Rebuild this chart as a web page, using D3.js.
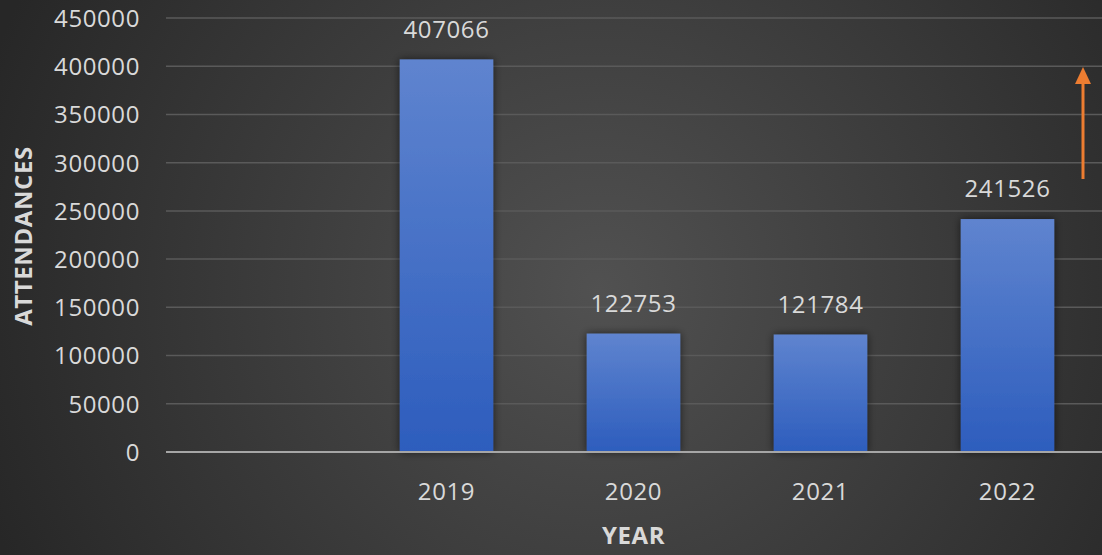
<!DOCTYPE html>
<html><head><meta charset="utf-8">
<script src="https://cdn.jsdelivr.net/npm/d3@7"></script>
<style>html,body{margin:0;padding:0;background:#333;}svg{display:block;}</style>
</head><body>
<svg id="c" width="1102" height="555"></svg>
<script>
const categories = ["", "2019", "2020", "2021", "2022"];
const values = [null, 407066, 122753, 121784, 241526];
const yTicks = [0, 50000, 100000, 150000, 200000, 250000, 300000, 350000, 400000, 450000];
const yTitle = "ATTENDANCES";
const xTitle = "YEAR";

const W = 1102, H = 555;
const m = {left: 166, right: 1, top: 18, bottom: 103};
const FONT = "'Open Sans', sans-serif";
const svg = d3.select("#c");
const defs = svg.append("defs");

const bg = defs.append("radialGradient").attr("id","bg").attr("gradientUnits","userSpaceOnUse")
  .attr("cx", 600).attr("cy", 290).attr("r", 650);
bg.append("stop").attr("offset","0%").attr("stop-color","#515151");
bg.append("stop").attr("offset","100%").attr("stop-color","#272727");

const bar = defs.append("linearGradient").attr("id","bar").attr("x1",0).attr("y1",0).attr("x2",0).attr("y2",1);
bar.append("stop").attr("offset","0%").attr("stop-color","#5f84cf");
bar.append("stop").attr("offset","100%").attr("stop-color","#2d5dbd");

const sh = defs.append("filter").attr("id","sh").attr("x","-30%").attr("y","-10%").attr("width","160%").attr("height","120%");
sh.append("feGaussianBlur").attr("in","SourceAlpha").attr("stdDeviation",4);
sh.append("feOffset").attr("dx",0).attr("dy",0).attr("result","b");
sh.append("feComponentTransfer").append("feFuncA").attr("type","linear").attr("slope",0.6);
const mg = sh.append("feMerge"); mg.append("feMergeNode"); mg.append("feMergeNode").attr("in","SourceGraphic");

svg.append("rect").attr("width",W).attr("height",H).attr("fill","url(#bg)");

const x = d3.scaleBand().domain(categories.map((c,i)=>i)).range([m.left, W - m.right]).paddingInner(0.5).paddingOuter(0.25);
const y = d3.scaleLinear().domain([0, 450000]).range([H - m.bottom, m.top]);

// gridlines
svg.append("g").selectAll("line").data(yTicks.filter(t=>t>0)).join("line")
  .attr("x1", m.left).attr("x2", W).attr("y1", d=>y(d)).attr("y2", d=>y(d))
  .attr("stroke","#5a5a5a").attr("stroke-width",1.5);

function styleText(sel){
  sel.attr("fill","#d9d9d9").style("font-family",FONT).style("font-size","24px").style("letter-spacing","0.6px");
}

// y axis labels
const yAxis = d3.axisLeft(y).tickValues(yTicks).tickSize(0).tickPadding(0).tickFormat(d3.format("d"));
const ya = svg.append("g").attr("transform",`translate(140,0)`).call(yAxis);
ya.select(".domain").remove();
ya.selectAll("text").attr("dy","0.35em").call(styleText);

// bars
const data = categories.map((c,i)=>({i, c, v: values[i]})).filter(d=>d.v!=null);
svg.append("g").selectAll("rect").data(data).join("rect")
  .attr("x", d=>x(d.i)).attr("width", x.bandwidth())
  .attr("y", d=>y(d.v)).attr("height", d=>y(0)-y(d.v))
  .attr("fill","url(#bar)").attr("filter","url(#sh)");

// data labels
svg.append("g").selectAll("text").data(data).join("text")
  .attr("x", d=>x(d.i)+x.bandwidth()/2).attr("y", d=>y(d.v)-30)
  .attr("text-anchor","middle").attr("dy","0.35em")
  .call(styleText)
  .text(d=>d.v);

// zero axis line
svg.append("line").attr("x1", m.left).attr("x2", W).attr("y1", y(0)).attr("y2", y(0))
  .attr("stroke","#a6a6a6").attr("stroke-width",2);

// x labels
const xAxis = d3.axisBottom(x).tickSize(0).tickPadding(0).tickFormat(i=>categories[i]);
const xa = svg.append("g").attr("transform",`translate(0,${y(0)+40})`).call(xAxis);
xa.select(".domain").remove();
xa.selectAll("text").attr("dy","0.35em").call(styleText);

// axis titles
svg.append("text").attr("x", (m.left + W - m.right)/2).attr("y", 536).attr("dy","0.35em")
  .attr("text-anchor","middle").call(styleText)
  .style("font-weight","bold").text(xTitle);
svg.append("text").attr("transform",`translate(24,236) rotate(-90)`).attr("dy","0.35em")
  .attr("text-anchor","middle").call(styleText)
  .style("font-weight","bold").text(yTitle);

// orange arrow
const ax = 1083;
svg.append("line").attr("x1", ax).attr("x2", ax).attr("y1", 179).attr("y2", 80)
  .attr("stroke","#ed7d31").attr("stroke-width",3);
svg.append("path").attr("d", `M${ax-8},${84} L${ax},${67} L${ax+8},${84} Z`).attr("fill","#ed7d31");
</script>
</body></html>
